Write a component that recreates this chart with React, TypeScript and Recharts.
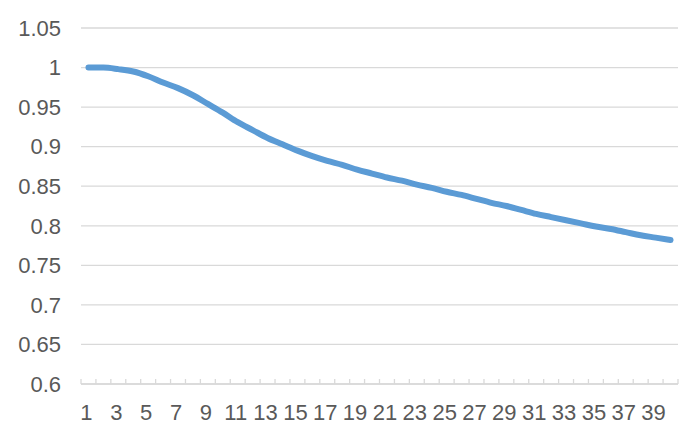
import { LineChart, Line, XAxis, YAxis, CartesianGrid } from 'recharts';

const periods = Array.from({ length: 40 }, (_, i) => String(i + 1));

const ratio = [
  1.0, 1.0, 0.998, 0.995, 0.989, 0.981, 0.974, 0.965, 0.954, 0.943,
  0.931, 0.921, 0.911, 0.903, 0.895, 0.888, 0.882, 0.877, 0.871, 0.866,
  0.861, 0.857, 0.852, 0.848, 0.843, 0.839, 0.834, 0.829, 0.825, 0.82,
  0.815, 0.811, 0.807, 0.803, 0.799, 0.796, 0.792, 0.788, 0.785, 0.782,
];

const yTicks = [0.6, 0.65, 0.7, 0.75, 0.8, 0.85, 0.9, 0.95, 1, 1.05];

const data = periods.map((p, i) => ({ period: p, value: ratio[i] }));

const W = 690;
const H = 435;
const margin = { top: 28, right: 12, left: 0, bottom: 0 };
const yAxisWidth = 81;
const bandHalf = (W - margin.right - yAxisWidth) / periods.length / 2;

const labelColor = '#595959';
const gridColor = '#D9D9D9';
const font = '"Liberation Sans", Arial, sans-serif';

// category labels every other slot, small inside tick marks between categories
const XTick = (props: any) => {
  const { x, y, payload, index } = props;
  const left = x - bandHalf;
  return (
    <g>
      <line x1={left} x2={left} y1={y} y2={y - 5} stroke={gridColor} strokeWidth={1.3} />
      {index === periods.length - 1 && (
        <line x1={x + bandHalf} x2={x + bandHalf} y1={y} y2={y - 5} stroke={gridColor} strokeWidth={1.3} />
      )}
      {index % 2 === 0 && (
        <text x={x - 2} y={y + 36} textAnchor="middle" fill={labelColor} fontSize={22} fontFamily={font}>
          {payload.value}
        </text>
      )}
    </g>
  );
};

export default function App() {
  return (
    <div style={{ position: 'absolute', left: 0, top: 0, background: '#fff' }}>
      <LineChart width={W} height={H} data={data} margin={margin}>
        <CartesianGrid horizontal vertical={false} stroke={gridColor} strokeWidth={1.3} />
        <XAxis
          dataKey="period"
          scale="band"
          interval={0}
          height={51}
          tickSize={0}
          tickMargin={0}
          tickLine={false}
          axisLine={{ stroke: gridColor, strokeWidth: 1.3 }}
          tick={<XTick />}
        />
        <YAxis
          width={yAxisWidth}
          domain={[0.6, 1.05]}
          ticks={yTicks}
          interval={0}
          axisLine={false}
          tickLine={false}
          tickSize={0}
          tickMargin={20}
          tick={{ fill: labelColor, fontSize: 22, fontFamily: font }}
        />
        <Line
          type="monotone"
          dataKey="value"
          stroke="#5B9BD5"
          strokeWidth={6}
          strokeLinecap="round"
          dot={false}
          isAnimationActive={false}
        />
      </LineChart>
    </div>
  );
}
